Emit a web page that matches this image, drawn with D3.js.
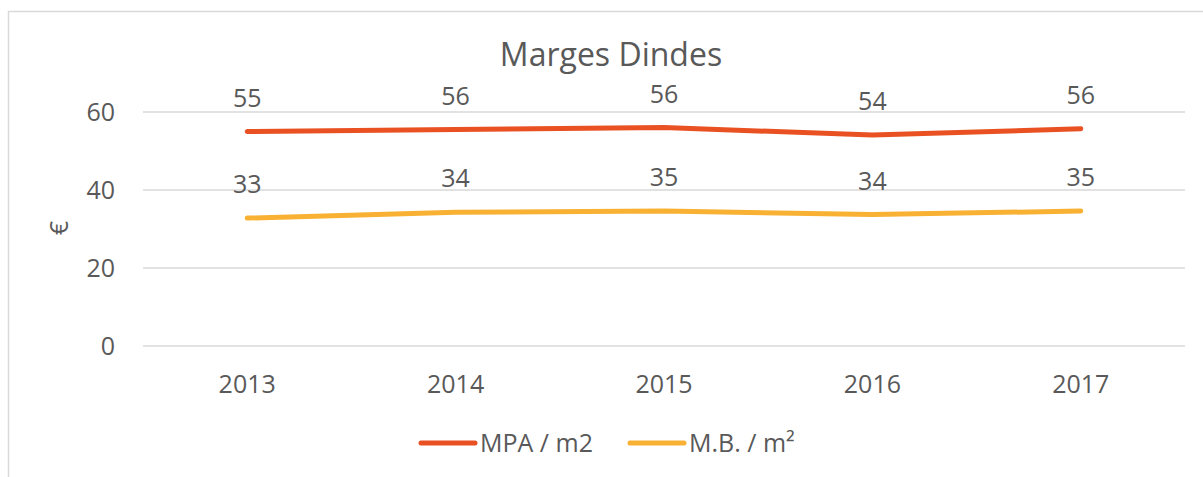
<!DOCTYPE html>
<html>
<head>
<meta charset="utf-8">
<script src="https://cdn.jsdelivr.net/npm/d3@7"></script>
<style>
  body { margin: 0; background: #fff; }
  text { font-family: "Open Sans", sans-serif; fill: #595959; }
</style>
</head>
<body>
<div id="chart"></div>
<script>
// data
var years = ["2013", "2014", "2015", "2016", "2017"];
var mpa = [55.0, 55.5, 56.0, 54.1, 55.7];
var mb = [32.8, 34.3, 34.6, 33.7, 34.6];
var mpaLabels = ["55", "56", "56", "54", "56"];
var mbLabels = ["33", "34", "35", "34", "35"];
var yTicks = [0, 20, 40, 60];
var seriesNames = ["MPA / m2", "M.B. / m²"];
var colors = ["#E95123", "#F8B133"];

var W = 1203, H = 477;
var margin = { top: 112, right: 18, bottom: 131, left: 143 };
var width = W - margin.left - margin.right,
    height = H - margin.top - margin.bottom;

var svg = d3.select("#chart")
    .append("svg")
    .attr("width", W)
    .attr("height", H);

// chart frame
svg.append("rect")
    .attr("x", 8.5).attr("y", 11.5)
    .attr("width", W + 20).attr("height", H + 20)
    .attr("fill", "none")
    .attr("stroke", "#d9d9d9")
    .attr("stroke-width", 1.5);

var g = svg.append("g")
    .attr("transform", "translate(" + margin.left + "," + margin.top + ")");

var x = d3.scaleBand()
    .domain(years)
    .range([0, width]);

var y = d3.scaleLinear()
    .domain([0, 60])
    .range([height, 0]);

// gridlines
g.selectAll(".grid")
    .data(yTicks)
    .enter()
    .append("line")
    .attr("x1", 0).attr("x2", width)
    .attr("y1", function (d) { return y(d); })
    .attr("y2", function (d) { return y(d); })
    .attr("stroke", "#d9d9d9")
    .attr("stroke-width", 1.5);

// y tick labels
var yAxis = g.append("g")
    .call(d3.axisLeft(y).tickValues(yTicks).tickSize(0).tickPadding(28));
yAxis.select(".domain").remove();
yAxis.selectAll("text")
    .attr("font-family", "Open Sans, sans-serif")
    .attr("font-size", 25)
    .style("fill", "#595959");

// x tick labels
var xAxis = g.append("g")
    .attr("transform", "translate(0," + height + ")")
    .call(d3.axisBottom(x).tickSize(0).tickPadding(29));
xAxis.select(".domain").remove();
xAxis.selectAll("text")
    .attr("font-family", "Open Sans, sans-serif")
    .attr("font-size", 25)
    .style("fill", "#595959");

// title
svg.append("text")
    .attr("x", 611).attr("y", 66)
    .attr("text-anchor", "middle")
    .attr("font-size", 32)
    .text("Marges Dindes");

// y axis title
svg.append("text")
    .attr("transform", "translate(68,228) rotate(-90)")
    .attr("text-anchor", "middle")
    .attr("font-size", 25)
    .text("€");

var line = d3.line()
    .x(function (d, i) { return x(years[i]) + x.bandwidth() / 2; })
    .y(function (d) { return y(d); });

[mpa, mb].forEach(function (s, k) {
    g.append("path")
        .datum(s)
        .attr("d", line)
        .attr("fill", "none")
        .attr("stroke", colors[k])
        .attr("stroke-width", 5)
        .attr("stroke-linecap", "round")
        .attr("stroke-linejoin", "round");
});

// data labels
[[mpa, mpaLabels], [mb, mbLabels]].forEach(function (p) {
    g.selectAll(null)
        .data(p[0])
        .enter()
        .append("text")
        .attr("x", function (d, i) { return x(years[i]) + x.bandwidth() / 2; })
        .attr("y", function (d) { return y(d) - 25; })
        .attr("text-anchor", "middle")
        .attr("font-size", 25)
        .text(function (d, i) { return p[1][i]; });
});

// legend
var legend = svg.append("g");
var legX = [421, 630];
seriesNames.forEach(function (name, k) {
    legend.append("line")
        .attr("x1", legX[k]).attr("x2", legX[k] + 54)
        .attr("y1", 443).attr("y2", 443)
        .attr("stroke", colors[k])
        .attr("stroke-width", 5)
        .attr("stroke-linecap", "round");
    legend.append("text")
        .attr("x", legX[k] + 59).attr("y", 452)
        .attr("font-size", 25)
        .text(name);
});
</script>
</body>
</html>
